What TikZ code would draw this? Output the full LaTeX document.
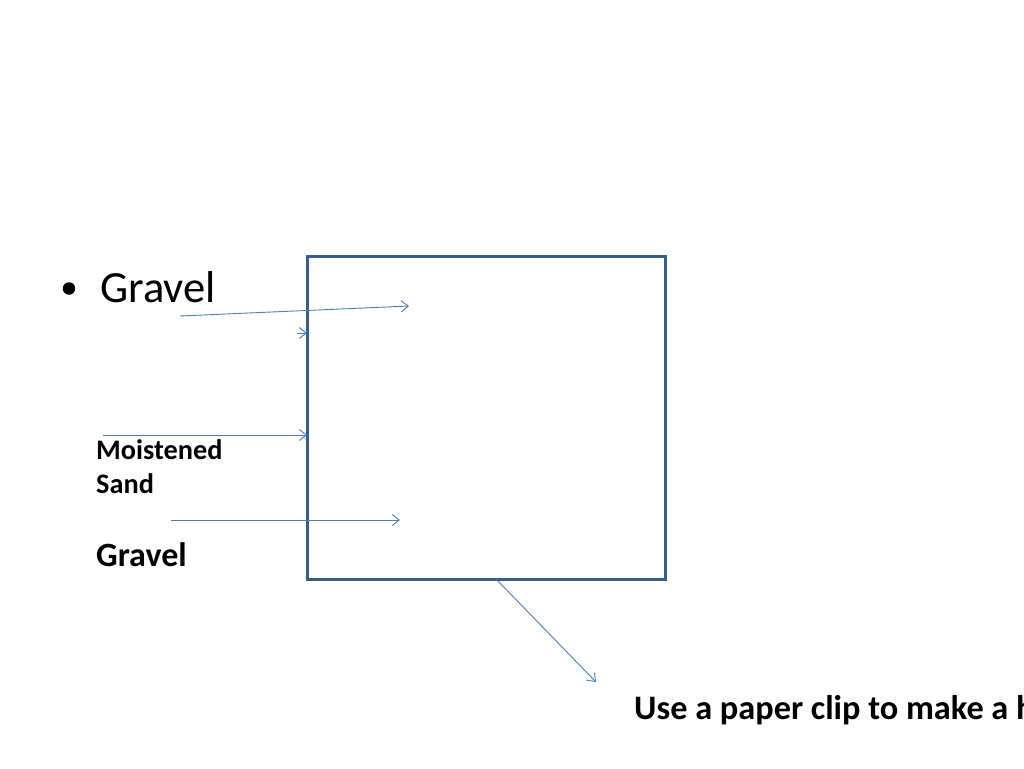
\documentclass[tikz,border=0pt]{standalone}
\usepackage{fontspec}
\setmainfont{Carlito}
\usetikzlibrary{arrows.meta}
\definecolor{boxblue}{RGB}{56,93,138}
\definecolor{arrblue}{RGB}{74,126,187}
\tikzset{
  boxstyle/.style={draw=boxblue, line width=3pt, minimum width=358pt, minimum height=323pt, inner sep=0pt, outer sep=0pt, anchor=north west},
  conn/.style={draw=arrblue, line width=0.9pt, -{Straight Barb[length=7pt,width=11pt]}},
  lbl/.style={anchor=base west, inner sep=0pt, text=black},
}
\begin{document}
\begin{tikzpicture}[x=1pt,y=-1pt]
\useasboundingbox[fill=white] (0,0) rectangle (1024,768);
\node[boxstyle] (box) at (307,256) {};
\node[fill=black, circle, inner sep=0pt, minimum size=12.5pt] (bul) at (69,288.5) {};
\node[lbl, font=\fontsize{44.6}{50}\selectfont] (gravel1) at (100,302) {Gravel};
\node[lbl, font=\fontsize{28.3}{34}\selectfont\bfseries] (moist) at (96,459) {Moistened};
\node[lbl, font=\fontsize{28.3}{34}\selectfont\bfseries] (sand) at (96,493) {Sand};
\node[lbl, font=\fontsize{34}{40}\selectfont\bfseries] (gravel2) at (96,566) {Gravel};
\node[lbl, font=\fontsize{34.3}{40}\selectfont\bfseries] (clip) at (634,719) {Use a paper clip to make a h};
\coordinate (a1s) at (180,316);
\coordinate (a1e) at (409,306);
\coordinate (a2s) at (297,333);
\coordinate (a2e) at (307,333);
\coordinate (a3s) at (103,435);
\coordinate (a3e) at (307,435);
\coordinate (a4s) at (171,520);
\coordinate (a4e) at (400,520);
\coordinate (a5s) at (box.south west -| 496,0);
\coordinate (a5e) at (596,682);
\draw[conn] (a1s) -- (a1e);
\draw[conn] (a2s) -- (a2e);
\draw[conn] (a3s) -- (a3e);
\draw[conn] (a4s) -- (a4e);
\draw[conn] (a5s) -- (a5e);
\end{tikzpicture}
\end{document}
